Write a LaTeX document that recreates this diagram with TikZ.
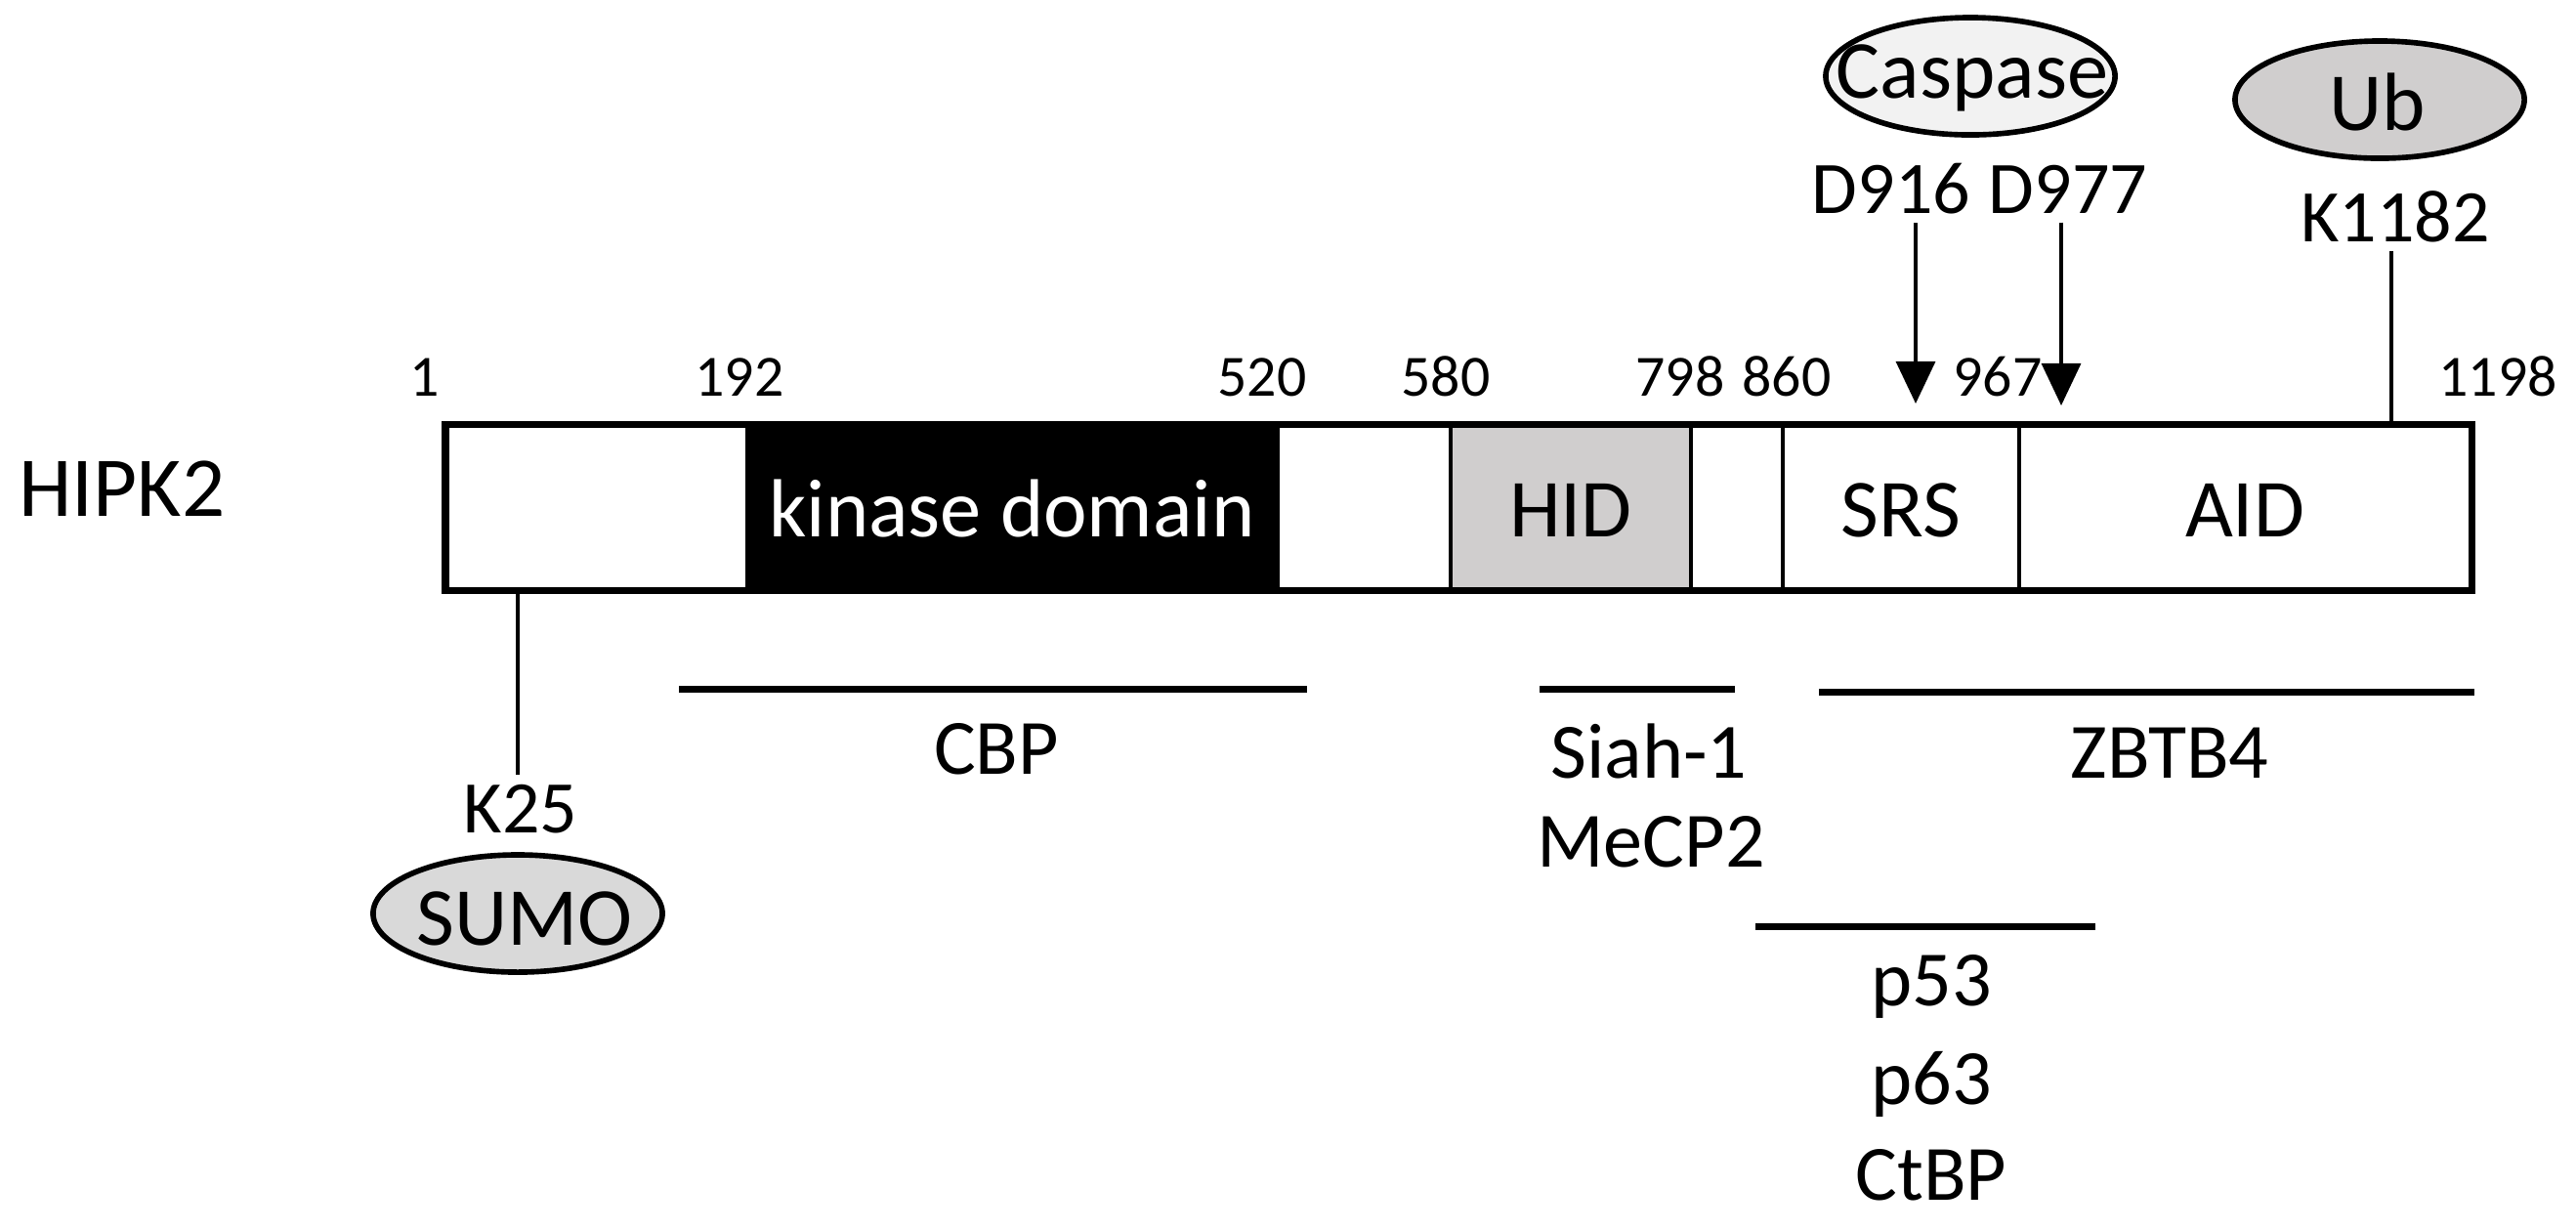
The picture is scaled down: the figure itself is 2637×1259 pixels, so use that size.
\documentclass[tikz,border=0pt]{standalone}
\usepackage{fontspec}
\setmainfont{Carlito}
\usetikzlibrary{arrows.meta,shapes.geometric}

\definecolor{hidgray}{HTML}{D0CECE}
\definecolor{sumofill}{HTML}{D9D9D9}
\definecolor{ubfill}{HTML}{D0CECE}
\definecolor{caspfill}{HTML}{F2F2F2}

\tikzset{
  resnum/.style={anchor=base,inner sep=2.5pt,font=\fontsize{17}{20}\selectfont},
  site/.style={anchor=base,inner sep=2.5pt,font=\fontsize{21.6}{26}\selectfont},
  partner/.style={anchor=base,inner sep=2.5pt,font=\fontsize{22.8}{27}\selectfont},
  dom/.style={anchor=base,inner sep=2.5pt,font=\fontsize{24}{29}\selectfont},
  mod/.style={ellipse,draw,line width=1.6pt,minimum width=2.96cm,minimum height=1.2cm,inner sep=0pt},
  bar/.style={line width=2pt},
  stem/.style={line width=1.2pt},
  cleave/.style={line width=0.9pt,-{Triangle[length=4.3mm,width=4mm]}},
}

\begin{document}
\begin{tikzpicture}[x=0.01cm,y=-0.01cm]
  \useasboundingbox (0,0) rectangle (2637,1259);

  % protein bar
  \fill[black] (763,434) rectangle (1310,604);
  \fill[hidgray] (1485,434) rectangle (1731,604);
  \foreach \x in {1485,1731,1825,2067}
    \draw[line width=1.4pt] (\x,434) -- (\x,604);
  \draw[line width=2pt] (456,434) rectangle (2530,604);

  \node[dom,font=\fontsize{24.8}{30}\selectfont] (hipk2) at (125,528) {HIPK2};
  \node[dom,text=white] (kin) at (1036,549) {kinase domain};
  \node[dom] (hid) at (1608,549) {HID};
  \node[dom] (srs) at (1946,549) {SRS};
  \node[dom] (aid) at (2298,549) {AID};

  % residue numbers
  \foreach \x/\n in {435/1,757/192,1292/520,1480/580,1720/798,1829/860,2045/967,2557/1198}
    \node[resnum] (r\n) at (\x,405) {\n};

  % modifications
  \node[mod,fill=caspfill] (casp) at (2017,78) {};
  \node[dom] (casptxt) at (2019,100) {Caspase};
  \node[mod,fill=ubfill] (ub) at (2436,102) {};
  \node[dom] (ubtxt) at (2434,133) {Ub};
  \node[mod,fill=sumofill] (sumo) at (530,935) {};
  \node[dom] (sumotxt) at (537,967) {SUMO};

  \node[site] (d916) at (1936,218) {D916};
  \node[site] (d977) at (2117,218) {D977};
  \node[site] (k1182) at (2452,247) {K1182};
  \node[site] (k25) at (533,852) {K25};

  \coordinate (c916) at (1961,413);
  \coordinate (c977) at (2110,415);
  \coordinate (ubsite) at (2448,434);
  \coordinate (sumosite) at (530,604);
  \draw[cleave] (d916.south -| c916) -- (c916);
  \draw[cleave] (d977.south -| c977) -- (c977);
  \draw[stem] (k1182.south -| ubsite) -- (ubsite);
  \draw[stem] (sumosite) -- (sumosite |- k25.north);

  % binding regions
  \foreach \a/\b/\y in {695/1338/705,1576/1776/705,1862/2533/708,1797/2145/948}
    \draw[bar] (\a,\y) -- (\b,\y);
  \node[partner] (cbp) at (1020,792) {CBP};
  \node[partner] (siah) at (1688,796) {Siah-1};
  \node[partner] (mecp) at (1690,887) {MeCP2};
  \node[partner] (zbtb) at (2221,796) {ZBTB4};
  \node[partner] (p53) at (1977,1029) {p53};
  \node[partner] (p63) at (1977,1130) {p63};
  \node[partner] (ctbp) at (1977,1228) {CtBP};
\end{tikzpicture}
\end{document}
